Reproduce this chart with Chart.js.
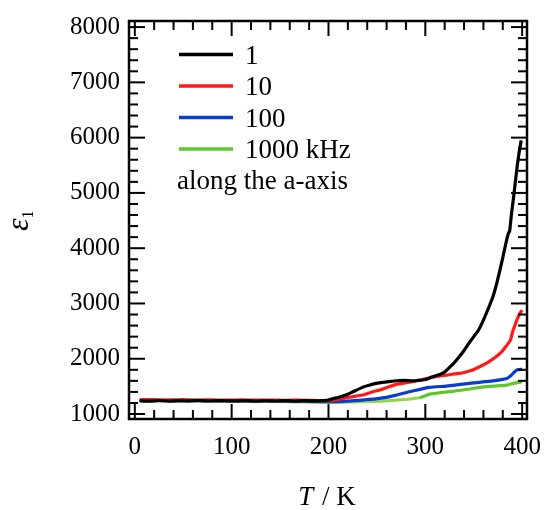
<!DOCTYPE html>
<html><head><meta charset="utf-8">
<script src="https://cdn.jsdelivr.net/npm/chart.js@4.4.1/dist/chart.umd.min.js"></script>
<style>html,body{margin:0;padding:0;background:#fff;}#wrap{width:545px;height:510px;}</style>
</head><body><div id="wrap"><canvas id="c" width="545" height="510"></canvas></div>
<script>
// ---- data ----
const seriesLabels = ['1', '10', '100', '1000 kHz'];
const noteText = 'along the a-axis';
const xTitleItalic = 'T';
const xTitleRest = ' / K';
const yTitleSymbol = 'ε';
const yTitleSub = '1';
const xTickValues = [0, 100, 200, 300, 400];
const yTickValues = [1000, 2000, 3000, 4000, 5000, 6000, 7000, 8000];
const xMinorStep = 20;
const yMinorStep = 200;

const temp1 = [5, 15, 25, 35, 45, 55, 65, 75, 85, 95, 105, 115, 125, 135, 145, 155, 165, 175, 185, 195, 200, 205, 210, 218, 225, 235, 242, 249, 255, 262, 270, 278, 287, 292, 297, 303, 310, 315, 320, 325, 330, 335, 340, 346, 350, 355, 360, 366, 370, 374, 377, 380, 384, 386, 387, 389, 391, 393, 395, 397, 399];
const eps1  = [1240, 1232, 1245, 1235, 1242, 1238, 1246, 1236, 1243, 1240, 1237, 1244, 1232, 1240, 1236, 1243, 1235, 1241, 1238, 1245, 1253, 1280, 1300, 1343, 1400, 1482, 1520, 1555, 1570, 1585, 1602, 1610, 1602, 1608, 1615, 1640, 1690, 1717, 1760, 1844, 1930, 2035, 2150, 2307, 2400, 2520, 2700, 2950, 3130, 3380, 3600, 3830, 4150, 4280, 4300, 4620, 4900, 5200, 5500, 5750, 5950];

const temp10 = [5, 20, 35, 50, 65, 80, 95, 110, 125, 140, 155, 170, 185, 200, 210, 220, 235, 245, 253, 262, 270, 280, 287, 296, 304, 312, 322, 330, 339, 348, 356, 365, 373, 379, 384, 388, 390, 392, 395, 398, 400];
const eps10  = [1258, 1262, 1255, 1260, 1252, 1258, 1250, 1256, 1250, 1254, 1248, 1252, 1246, 1240, 1262, 1300, 1343, 1400, 1434, 1490, 1537, 1565, 1584, 1620, 1656, 1680, 1705, 1725, 1747, 1790, 1855, 1940, 2035, 2130, 2240, 2340, 2480, 2580, 2720, 2830, 2880];

const temp100 = [5, 25, 50, 75, 100, 125, 150, 175, 200, 220, 235, 253, 270, 287, 304, 322, 339, 356, 370, 380, 385, 389, 392, 395, 400];
const eps100  = [1248, 1245, 1243, 1240, 1238, 1236, 1235, 1232, 1225, 1235, 1253, 1283, 1343, 1416, 1482, 1506, 1542, 1573, 1600, 1627, 1650, 1705, 1760, 1800, 1810];

const temp1000 = [5, 50, 100, 150, 200, 235, 270, 294, 304, 320, 339, 356, 370, 384, 391, 400];
const eps1000  = [1235, 1232, 1230, 1228, 1210, 1222, 1253, 1295, 1356, 1395, 1434, 1482, 1505, 1524, 1555, 1584];

const seriesColors = ['#000000', '#ff1a1a', '#0b3ccf', '#5ec72a'];
const greenLowColor = '#94d44e';

const pts = (xs, ys) => xs.map((v, i) => ({x: v, y: ys[i]}));
const serifFont = "'Liberation Serif', 'Times New Roman', serif";

const framePlugin = {
  id: 'frame',
  afterDraw(chart) {
    const {ctx, chartArea, scales} = chart;
    const {left, right, top, bottom} = chartArea;
    const xs = scales.x, ys = scales.y;
    ctx.save();
    ctx.strokeStyle = '#000';
    ctx.lineWidth = 2;
    ctx.lineCap = 'butt';
    const line = (a, b, c, d) => { ctx.beginPath(); ctx.moveTo(a, b); ctx.lineTo(c, d); ctx.stroke(); };
    for (let v = xTickValues[0]; v <= xTickValues[xTickValues.length - 1]; v += xMinorStep) {
      const px = xs.getPixelForValue(v);
      const len = xTickValues.includes(v) ? 15 : 9;
      line(px, bottom, px, bottom - len);
      line(px, top, px, top + len);
    }
    for (let v = yTickValues[0]; v <= yTickValues[yTickValues.length - 1]; v += yMinorStep) {
      const py = ys.getPixelForValue(v);
      const len = yTickValues.includes(v) ? 16 : 9;
      line(left, py, left + len, py);
      line(right, py, right - len, py);
    }
    ctx.lineWidth = 2.5;
    ctx.strokeRect(left, top, right - left, bottom - top);

    // legend
    ctx.fillStyle = '#000';
    ctx.font = '27px ' + serifFont;
    ctx.textAlign = 'left';
    ctx.textBaseline = 'alphabetic';
    chart.data.datasets.forEach((ds, i) => {
      const ly = top + 33.5 + i * 31.5;
      ctx.strokeStyle = seriesColors[i];
      ctx.lineWidth = 3.5;
      line(left + 50, ly, left + 104, ly);
      ctx.fillText(ds.label, left + 116, ly + 9);
    });
    ctx.fillText(noteText, left + 48, top + 168);

    // x title
    ctx.font = 'italic 27px ' + serifFont;
    const wT = ctx.measureText(xTitleItalic).width;
    ctx.font = '27px ' + serifFont;
    const wR = ctx.measureText(xTitleRest).width;
    const cx = (left + right) / 2 - 2;
    let sx = cx - (wT + wR) / 2;
    ctx.font = 'italic 27px ' + serifFont;
    ctx.fillText(xTitleItalic, sx, 505);
    ctx.font = '27px ' + serifFont;
    ctx.fillText(xTitleRest, sx + wT + 2, 505);

    // y title
    ctx.save();
    ctx.translate(28, 231);
    ctx.rotate(-Math.PI / 2);
    ctx.font = 'italic 32px ' + serifFont;
    const wE = ctx.measureText(yTitleSymbol).width;
    ctx.fillText(yTitleSymbol, 0, 0);
    ctx.font = '16px ' + serifFont;
    ctx.fillText(yTitleSub, wE, 5);
    ctx.restore();
    ctx.restore();
  }
};

new Chart(document.getElementById('c'), {
  type: 'line',
  data: {
    datasets: [
      {label: seriesLabels[0], data: pts(temp1, eps1), borderColor: seriesColors[0], borderWidth: 3.2, pointRadius: 0, tension: 0.2, fill: false},
      {label: seriesLabels[1], data: pts(temp10, eps10), borderColor: seriesColors[1], borderWidth: 3.2, pointRadius: 0, tension: 0.2, fill: false},
      {label: seriesLabels[2], data: pts(temp100, eps100), borderColor: seriesColors[2], borderWidth: 3.2, pointRadius: 0, tension: 0.2, fill: false},
      {label: seriesLabels[3], data: pts(temp1000, eps1000), borderColor: seriesColors[3], borderWidth: 3.2, pointRadius: 0, tension: 0.2, fill: false,
        segment: {borderColor: c => (c.p1.parsed.x <= 300 ? greenLowColor : seriesColors[3])}}
    ]
  },
  options: {
    responsive: false,
    devicePixelRatio: 1,
    animation: false,
    layout: {padding: {top: 21, right: 18, left: 0, bottom: 0}},
    plugins: {legend: {display: false}, tooltip: {enabled: false}},
    scales: {
      x: {
        type: 'linear', min: -6, max: 405,
        grid: {display: false, drawTicks: false}, border: {display: false},
        ticks: {font: {family: serifFont, size: 25}, color: '#000', padding: 13, maxRotation: 0, callback: v => String(v)},
        afterBuildTicks: s => { s.ticks = xTickValues.map(v => ({value: v})); },
        afterFit: s => { s.height = 91; s.paddingLeft = 0; s.paddingRight = 0; }
      },
      y: {
        type: 'linear', min: 910, max: 8110,
        grid: {display: false, drawTicks: false}, border: {display: false},
        ticks: {font: {family: serifFont, size: 25}, color: '#000', padding: 9, callback: v => String(v)},
        afterBuildTicks: s => { s.ticks = yTickValues.map(v => ({value: v})); },
        afterFit: s => { s.width = 129; s.paddingTop = 0; s.paddingBottom = 0; }
      }
    }
  },
  plugins: [framePlugin]
});
</script>
</body></html>
